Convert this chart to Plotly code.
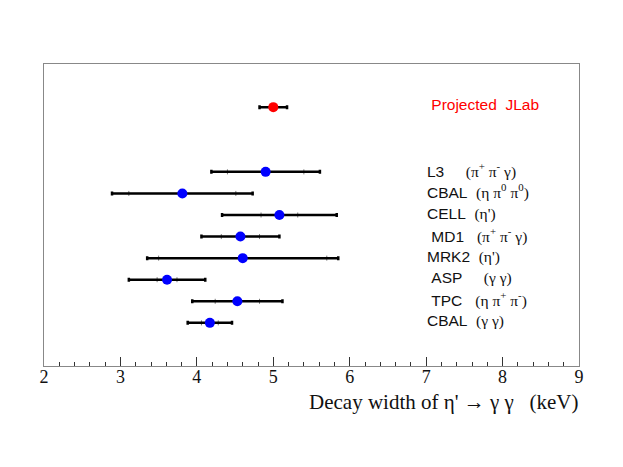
import plotly.graph_objects as go

# measurements (bottom to top)
experiments = ["CBAL", "\u00a0TPC", "\u00a0ASP", "MRK2", "\u00a0MD1", "CELL", "CBAL", "L3"]
gaps = [2, 3, 5, 2, 3, 2, 2, 5]
channels = ["(γ γ)", "(η π<sup>+</sup> π<sup>-</sup>)", "(γ γ)", "(η')",
            "(π<sup>+</sup> π<sup>-</sup> γ)", "(η')", "(η π<sup>0</sup> π<sup>0</sup>)",
            "(π<sup>+</sup> π<sup>-</sup> γ)"]
row_pos = [2, 3, 4, 5, 6, 7, 8, 9]
width_kev = [4.17, 4.53, 3.61, 4.60, 4.57, 5.08, 3.81, 4.90]
stat_err = [0.11, 0.29, 0.13, 1.10, 0.25, 0.24, 0.70, 0.50]
total_err = [0.29, 0.59, 0.50, 1.25, 0.51, 0.75, 0.92, 0.71]

# projection
proj_label = "\u00a0Projected\u00a0\u00a0JLab"
proj_pos = [12]
proj_value = [5.0]
proj_err = [0.18]

x_ticks = [2, 3, 4, 5, 6, 7, 8, 9]

fig = go.Figure()

# inner (stat) tick marks
fig.add_trace(go.Scatter(
    x=width_kev, y=row_pos, mode="markers",
    marker=dict(size=1, color="rgba(0,0,0,0)"),
    error_x=dict(type="data", array=stat_err, color="#777777", thickness=1, width=2.5),
    showlegend=False, hoverinfo="skip"))

# total errors + points
fig.add_trace(go.Scatter(
    x=width_kev, y=row_pos, mode="markers",
    marker=dict(size=10, color="#0000ff", line=dict(width=0)),
    error_x=dict(type="data", array=total_err, color="#000000", thickness=2.5, width=2),
    showlegend=False))

fig.add_trace(go.Scatter(
    x=proj_value, y=proj_pos, mode="markers",
    marker=dict(size=10, color="#ff0000", line=dict(width=0)),
    error_x=dict(type="data", array=proj_err, color="#000000", thickness=2.5, width=2),
    showlegend=False))

serif = "Liberation Serif, Times New Roman, serif"
sans = "Liberation Sans, Arial, sans-serif"
for name, gap, ch, yv in zip(experiments, gaps, channels, row_pos):
    txt = name + "\u00a0" * gap + f"<span style=\"font-family:Liberation Serif\">{ch}</span>"
    fig.add_annotation(x=7.0, y=yv, xref="x", yref="y", text=txt, showarrow=False,
                       xanchor="left", yanchor="middle", xshift=-1, yshift=1.5,
                       font=dict(family=sans, size=15.5, color="#111111"))

fig.add_annotation(x=7.0, y=proj_pos[0], xref="x", yref="y", text=proj_label, showarrow=False,
                   xanchor="left", yanchor="middle", xshift=-1, yshift=2.5,
                   font=dict(family=sans, size=15.5, color="#ff0000"))

fig.add_annotation(x=1, y=-0.118, xref="paper", yref="paper",
                   text="Decay width of η' → γ γ \u00a0\u00a0(keV)", showarrow=False,
                   xanchor="right", yanchor="middle", xshift=2,
                   font=dict(family=serif, size=21, color="#111111"))

fig.update_layout(
    width=615, height=459,
    margin=dict(l=36, r=44, t=56, b=101),
    paper_bgcolor="white", plot_bgcolor="white",
    xaxis=dict(range=[2, 9], tickvals=x_ticks, ticks="inside", ticklen=9, tickwidth=1,
               tickcolor="#333333", showgrid=False, zeroline=False,
               showline=True, linecolor="#888888", linewidth=1, mirror=True,
               ticklabelstandoff=-6,
               tickfont=dict(family=serif, size=18, color="#111111"),
               minor=dict(dtick=0.2, tick0=2, ticks="inside", ticklen=4.5, tickcolor="#333333", tickwidth=1)),
    yaxis=dict(range=[0, 14], showticklabels=False, ticks="", showgrid=False, zeroline=False,
               showline=True, linecolor="#888888", linewidth=1, mirror=True),
)

fig.write_html("out.html")
